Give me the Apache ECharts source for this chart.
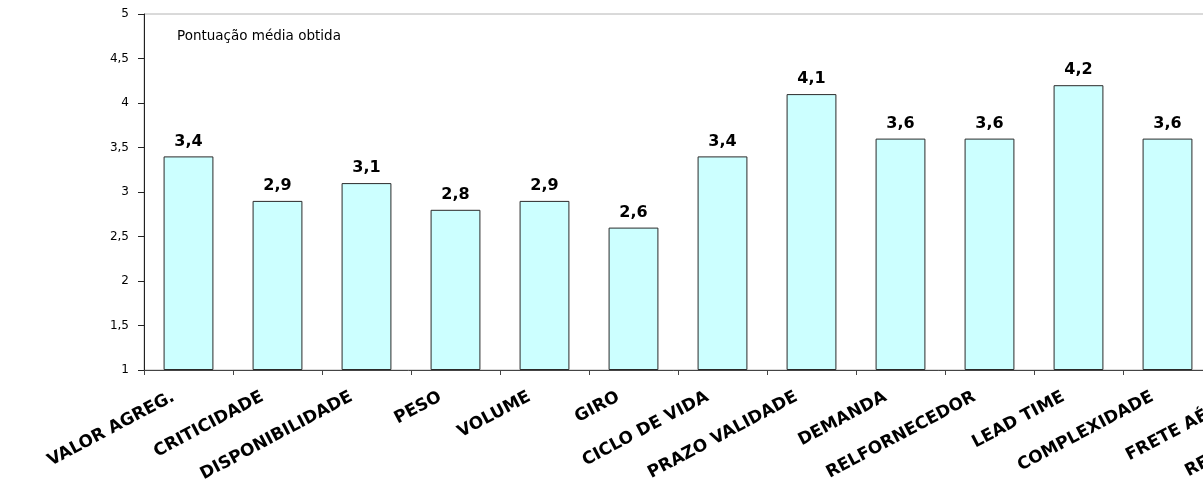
<!DOCTYPE html>
<html>
<head>
<meta charset="utf-8">
<script src="https://cdn.jsdelivr.net/npm/echarts@6/dist/echarts.min.js"></script>
<style>
  html, body { margin: 0; padding: 0; background: #ffffff; }
  #chart { width: 1203px; height: 504px; }
</style>
</head>
<body>
<div id="chart"></div>
<script>
// Criteria evaluated (the last two continue past the right edge)
const categories = [
  'VALOR AGREG.', 'CRITICIDADE', 'DISPONIBILIDADE', 'PESO', 'VOLUME', 'GIRO',
  'CICLO DE VIDA', 'PRAZO VALIDADE', 'DEMANDA', 'RELFORNECEDOR', 'LEAD TIME',
  'COMPLEXIDADE', 'FRETE AÉREO', 'REDUÇÃO CUSTO'
];

// Average score per criterion
const averageScore = [3.4, 2.9, 3.1, 2.8, 2.9, 2.6, 3.4, 4.1, 3.6, 3.6, 4.2, 3.6, null, null];

// Value-axis tick labels (decimal comma)
const yTickLabels = ['1', '1,5', '2', '2,5', '3', '3,5', '4', '4,5', '5'];

const seriesName = 'Pontuação média obtida';

const chart = echarts.init(document.getElementById('chart'), null, { renderer: 'canvas' });

const toComma = v => v.toFixed(1).replace('.', ',');

chart.setOption({
  backgroundColor: '#ffffff',
  animation: false,
  title: {
    text: seriesName,
    left: 177,
    top: 29,
    padding: 0,
    textStyle: {
      fontFamily: 'DejaVu Sans',
      fontSize: 13.5,
      fontWeight: 'normal',
      color: '#000000'
    }
  },
  grid: {
    left: 144,
    top: 14,
    width: 1246,
    bottom: 134,
    containLabel: false,
    outerBoundsMode: 'none',
    show: true,
    borderColor: '#b4b4b4',
    borderWidth: 1,
    backgroundColor: '#ffffff'
  },
  xAxis: {
    type: 'category',
    data: categories,
    axisLine: { lineStyle: { color: '#444444', width: 1 } },
    axisTick: { show: true, length: 5, lineStyle: { color: '#444444' } },
    axisLabel: {
      interval: 0,
      rotate: 28,
      margin: 18,
      padding: [0, 17, 0, 0],
      fontFamily: 'DejaVu Sans',
      fontWeight: 'bold',
      fontSize: 17,
      color: '#000000'
    },
    splitLine: { show: false }
  },
  yAxis: {
    type: 'value',
    min: 1,
    max: 5,
    interval: 0.5,
    startValue: 1,
    axisLine: { show: true, lineStyle: { color: '#222222', width: 1 } },
    axisTick: { show: true, length: 6, lineStyle: { color: '#222222' } },
    axisLabel: {
      margin: 15,
      fontFamily: 'DejaVu Sans',
      fontSize: 12,
      color: '#000000',
      formatter: v => yTickLabels[Math.round((v - 1) / 0.5)]
    },
    splitLine: { show: false }
  },
  series: [{
    name: seriesName,
    type: 'bar',
    data: averageScore,
    barCategoryGap: '44%',
    itemStyle: {
      color: '#ccffff',
      borderColor: '#2a2a2a',
      borderWidth: 1
    },
    label: {
      show: true,
      position: 'top',
      distance: 7,
      fontFamily: 'DejaVu Sans',
      fontWeight: 'bold',
      fontSize: 16,
      color: '#000000',
      formatter: p => toComma(p.value)
    }
  }]
});
</script>
</body>
</html>
